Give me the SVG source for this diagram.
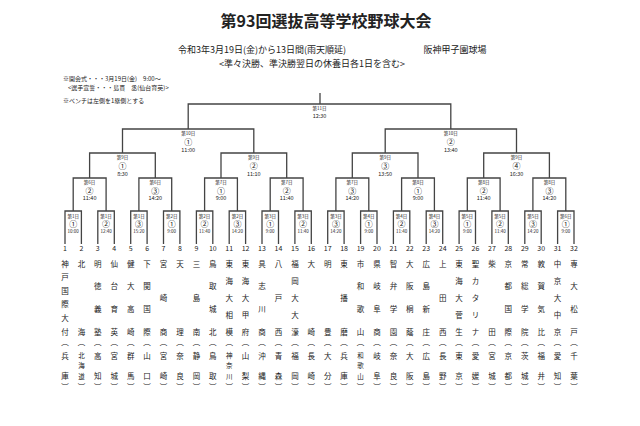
<svg xmlns="http://www.w3.org/2000/svg" width="640" height="426" viewBox="0 0 640 426">
<style>
text{font-family:"Noto Sans CJK JP","Noto Sans",sans-serif;fill:#222;text-anchor:middle;dominant-baseline:central}
.t{font-size:7.5px}
.n{font-size:7px}
.d{font-size:4.5px}
.c{font-size:8px}
.h{font-size:6px}
.s{font-size:6.5px}
.l{text-anchor:start}
path{fill:none;stroke:#444;stroke-width:1.3}
</style>
<rect width="640" height="426" fill="#fff"/>
<text x="326" y="20" style="font-size:16px;font-weight:bold">第93回選抜高等学校野球大会</text>
<text x="262" y="49" style="font-size:9px">令和3年3月19日(金)から13日間(雨天順延)</text>
<text x="455" y="49" style="font-size:9px">阪神甲子園球場</text>
<text x="312" y="63" style="font-size:9px">&lt;準々決勝、準決勝翌日の休養日各1日を含む&gt;</text>
<text x="63" y="78" class="h l">※開会式・・・3月19日(金)　9:00～</text>
<text x="68" y="87" class="h l">&lt;選手宣誓・・・島貫　丞(仙台育英)&gt;</text>
<text x="63" y="100" class="h l">※ベンチは左側を1塁側とする</text>
<g id="connectors">
<path d="M320 93V104M188.2 129V104H450.8V129"/>
<path d="M122.5 153V129H253.8V153M385.2 153V129H516.5V153"/>
<path d="M89.6 178V153H155.3V178M221 178V153H286.7V178M352.3 178V153H418V178M483.7 178V153H549.4V178"/>
<path d="M73.2 211V178H106.1V211M138.9 211V178H171.7V211M204.6 211V178H237.4V211M270.2 211V178H303.1V211M335.9 211V178H368.8V211M401.6 211V178H434.4V211M467.3 211V178H500.1V211M532.9 211V178H565.8V211"/>
<path d="M65 244V211H81.4V244M97.8 244V211H114.3V244M130.7 244V211H147.1V244M163.5 244V211H179.9V244M196.4 244V211H212.8V244M229.2 244V211H245.6V244M262 244V211H278.5V244M294.9 244V211H311.3V244M327.7 244V211H344.1V244M360.6 244V211H377V244M393.4 244V211H409.8V244M426.2 244V211H442.7V244M459.1 244V211H475.5V244M491.9 244V211H508.3V244M524.8 244V211H541.2V244M557.6 244V211H574V244"/>
</g>
<g id="labels">
<text x="319.5" y="108" class="d">第11日</text><text x="319.5" y="116" class="d" style="font-size:5.5px">12:30</text>
<text x="188.2" y="133" class="d">第10日</text><text x="188.2" y="141" class="c">①</text><text x="188.2" y="150" class="d" style="font-size:5.5px">11:00</text>
<text x="450.8" y="133" class="d">第10日</text><text x="450.8" y="141" class="c">②</text><text x="450.8" y="150" class="d" style="font-size:5.5px">13:40</text>
<text x="122.5" y="157" class="d">第9日</text><text x="122.5" y="165" class="c">①</text><text x="122.5" y="174" class="d" style="font-size:5.5px">8:30</text>
<text x="253.8" y="157" class="d">第9日</text><text x="253.8" y="165" class="c">②</text><text x="253.8" y="174" class="d" style="font-size:5.5px">11:10</text>
<text x="385.2" y="157" class="d">第9日</text><text x="385.2" y="165" class="c">③</text><text x="385.2" y="174" class="d" style="font-size:5.5px">13:50</text>
<text x="516.5" y="157" class="d">第9日</text><text x="516.5" y="165" class="c">④</text><text x="516.5" y="174" class="d" style="font-size:5.5px">16:30</text>
<text x="89.6" y="182" class="d">第6日</text><text x="89.6" y="190" class="c">②</text><text x="89.6" y="198" class="d" style="font-size:5.5px">11:40</text>
<text x="155.3" y="182" class="d">第6日</text><text x="155.3" y="190" class="c">③</text><text x="155.3" y="198" class="d" style="font-size:5.5px">14:20</text>
<text x="221" y="182" class="d">第7日</text><text x="221" y="190" class="c">①</text><text x="221" y="198" class="d" style="font-size:5.5px">9:00</text>
<text x="286.7" y="182" class="d">第7日</text><text x="286.7" y="190" class="c">②</text><text x="286.7" y="198" class="d" style="font-size:5.5px">11:40</text>
<text x="352.3" y="182" class="d">第7日</text><text x="352.3" y="190" class="c">③</text><text x="352.3" y="198" class="d" style="font-size:5.5px">14:20</text>
<text x="418" y="182" class="d">第8日</text><text x="418" y="190" class="c">①</text><text x="418" y="198" class="d" style="font-size:5.5px">9:00</text>
<text x="483.7" y="182" class="d">第8日</text><text x="483.7" y="190" class="c">②</text><text x="483.7" y="198" class="d" style="font-size:5.5px">11:40</text>
<text x="549.4" y="182" class="d">第8日</text><text x="549.4" y="190" class="c">③</text><text x="549.4" y="198" class="d" style="font-size:5.5px">14:20</text>
<text x="73.2" y="215.5" class="d">第1日</text><text x="73.2" y="223" class="c">①</text><text x="73.2" y="231" class="d">10:00</text>
<text x="106.1" y="215.5" class="d">第1日</text><text x="106.1" y="223" class="c">②</text><text x="106.1" y="231" class="d">12:40</text>
<text x="138.9" y="215.5" class="d">第1日</text><text x="138.9" y="223" class="c">③</text><text x="138.9" y="231" class="d">15:20</text>
<text x="171.7" y="215.5" class="d">第2日</text><text x="171.7" y="223" class="c">①</text><text x="171.7" y="231" class="d">9:00</text>
<text x="204.6" y="215.5" class="d">第2日</text><text x="204.6" y="223" class="c">②</text><text x="204.6" y="231" class="d">11:40</text>
<text x="237.4" y="215.5" class="d">第2日</text><text x="237.4" y="223" class="c">③</text><text x="237.4" y="231" class="d">14:20</text>
<text x="270.2" y="215.5" class="d">第3日</text><text x="270.2" y="223" class="c">①</text><text x="270.2" y="231" class="d">9:00</text>
<text x="303.1" y="215.5" class="d">第3日</text><text x="303.1" y="223" class="c">②</text><text x="303.1" y="231" class="d">11:40</text>
<text x="335.9" y="215.5" class="d">第3日</text><text x="335.9" y="223" class="c">③</text><text x="335.9" y="231" class="d">14:20</text>
<text x="368.8" y="215.5" class="d">第4日</text><text x="368.8" y="223" class="c">①</text><text x="368.8" y="231" class="d">9:00</text>
<text x="401.6" y="215.5" class="d">第4日</text><text x="401.6" y="223" class="c">②</text><text x="401.6" y="231" class="d">11:40</text>
<text x="434.4" y="215.5" class="d">第4日</text><text x="434.4" y="223" class="c">③</text><text x="434.4" y="231" class="d">14:20</text>
<text x="467.3" y="215.5" class="d">第5日</text><text x="467.3" y="223" class="c">①</text><text x="467.3" y="231" class="d">9:00</text>
<text x="500.1" y="215.5" class="d">第5日</text><text x="500.1" y="223" class="c">②</text><text x="500.1" y="231" class="d">11:40</text>
<text x="532.9" y="215.5" class="d">第5日</text><text x="532.9" y="223" class="c">③</text><text x="532.9" y="231" class="d">14:20</text>
<text x="565.8" y="215.5" class="d">第6日</text><text x="565.8" y="223" class="c">①</text><text x="565.8" y="231" class="d">9:00</text>
</g>
<g id="t1" class="t"><text x="65" y="248" class="n">1</text><text x="65" y="263">神</text><text x="65" y="276.6">戸</text><text x="65" y="290.2">国</text><text x="65" y="303.8">際</text><text x="65" y="317.4">大</text><text x="65" y="331">付</text><text x="65" y="341">︵</text><text x="65" y="355">兵</text><text x="65" y="375">庫</text><text x="65" y="386">︶</text></g>
<g id="t2" class="t"><text x="81.4" y="248" class="n">2</text><text x="81.4" y="263">北</text><text x="81.4" y="331">海</text><text x="81.4" y="341">︵</text><text x="81.4" y="354.5" class="s">北</text><text x="81.4" y="365" class="s">海</text><text x="81.4" y="375.5" class="s">道</text><text x="81.4" y="386">︶</text></g>
<g id="t3" class="t"><text x="97.8" y="248" class="n">3</text><text x="97.8" y="263">明</text><text x="97.8" y="285.7">徳</text><text x="97.8" y="308.3">義</text><text x="97.8" y="331">塾</text><text x="97.8" y="341">︵</text><text x="97.8" y="355">高</text><text x="97.8" y="375">知</text><text x="97.8" y="386">︶</text></g>
<g id="t4" class="t"><text x="114.3" y="248" class="n">4</text><text x="114.3" y="263">仙</text><text x="114.3" y="285.7">台</text><text x="114.3" y="308.3">育</text><text x="114.3" y="331">英</text><text x="114.3" y="341">︵</text><text x="114.3" y="355">宮</text><text x="114.3" y="375">城</text><text x="114.3" y="386">︶</text></g>
<g id="t5" class="t"><text x="130.7" y="248" class="n">5</text><text x="130.7" y="263">健</text><text x="130.7" y="285.7">大</text><text x="130.7" y="308.3">高</text><text x="130.7" y="331">崎</text><text x="130.7" y="341">︵</text><text x="130.7" y="355">群</text><text x="130.7" y="375">馬</text><text x="130.7" y="386">︶</text></g>
<g id="t6" class="t"><text x="147.1" y="248" class="n">6</text><text x="147.1" y="263">下</text><text x="147.1" y="285.7">関</text><text x="147.1" y="308.3">国</text><text x="147.1" y="331">際</text><text x="147.1" y="341">︵</text><text x="147.1" y="355">山</text><text x="147.1" y="375">口</text><text x="147.1" y="386">︶</text></g>
<g id="t7" class="t"><text x="163.5" y="248" class="n">7</text><text x="163.5" y="263">宮</text><text x="163.5" y="297">崎</text><text x="163.5" y="331">商</text><text x="163.5" y="341">︵</text><text x="163.5" y="355">宮</text><text x="163.5" y="375">崎</text><text x="163.5" y="386">︶</text></g>
<g id="t8" class="t"><text x="179.9" y="248" class="n">8</text><text x="179.9" y="263">天</text><text x="179.9" y="331">理</text><text x="179.9" y="341">︵</text><text x="179.9" y="355">奈</text><text x="179.9" y="375">良</text><text x="179.9" y="386">︶</text></g>
<g id="t9" class="t"><text x="196.4" y="248" class="n">9</text><text x="196.4" y="263">三</text><text x="196.4" y="297">島</text><text x="196.4" y="331">南</text><text x="196.4" y="341">︵</text><text x="196.4" y="355">静</text><text x="196.4" y="375">岡</text><text x="196.4" y="386">︶</text></g>
<g id="t10" class="t"><text x="212.8" y="248" class="n">10</text><text x="212.8" y="263">鳥</text><text x="212.8" y="285.7">取</text><text x="212.8" y="308.3">城</text><text x="212.8" y="331">北</text><text x="212.8" y="341">︵</text><text x="212.8" y="355">鳥</text><text x="212.8" y="375">取</text><text x="212.8" y="386">︶</text></g>
<g id="t11" class="t"><text x="229.2" y="248" class="n">11</text><text x="229.2" y="263">東</text><text x="229.2" y="280">海</text><text x="229.2" y="297">大</text><text x="229.2" y="314">相</text><text x="229.2" y="331">模</text><text x="229.2" y="341">︵</text><text x="229.2" y="354.5" class="s">神</text><text x="229.2" y="365" class="s">奈</text><text x="229.2" y="375.5" class="s">川</text><text x="229.2" y="386">︶</text></g>
<g id="t12" class="t"><text x="245.6" y="248" class="n">12</text><text x="245.6" y="263">東</text><text x="245.6" y="280">海</text><text x="245.6" y="297">大</text><text x="245.6" y="314">甲</text><text x="245.6" y="331">府</text><text x="245.6" y="341">︵</text><text x="245.6" y="355">山</text><text x="245.6" y="375">梨</text><text x="245.6" y="386">︶</text></g>
<g id="t13" class="t"><text x="262" y="248" class="n">13</text><text x="262" y="263">具</text><text x="262" y="285.7">志</text><text x="262" y="308.3">川</text><text x="262" y="331">商</text><text x="262" y="341">︵</text><text x="262" y="355">沖</text><text x="262" y="375">縄</text><text x="262" y="386">︶</text></g>
<g id="t14" class="t"><text x="278.5" y="248" class="n">14</text><text x="278.5" y="263">八</text><text x="278.5" y="297">戸</text><text x="278.5" y="331">西</text><text x="278.5" y="341">︵</text><text x="278.5" y="355">青</text><text x="278.5" y="375">森</text><text x="278.5" y="386">︶</text></g>
<g id="t15" class="t"><text x="294.9" y="248" class="n">15</text><text x="294.9" y="263">福</text><text x="294.9" y="280">岡</text><text x="294.9" y="297">大</text><text x="294.9" y="314">大</text><text x="294.9" y="331">濠</text><text x="294.9" y="341">︵</text><text x="294.9" y="355">福</text><text x="294.9" y="375">岡</text><text x="294.9" y="386">︶</text></g>
<g id="t16" class="t"><text x="311.3" y="248" class="n">16</text><text x="311.3" y="263">大</text><text x="311.3" y="331">崎</text><text x="311.3" y="341">︵</text><text x="311.3" y="355">長</text><text x="311.3" y="375">崎</text><text x="311.3" y="386">︶</text></g>
<g id="t17" class="t"><text x="327.7" y="248" class="n">17</text><text x="327.7" y="263">明</text><text x="327.7" y="331">豊</text><text x="327.7" y="341">︵</text><text x="327.7" y="355">大</text><text x="327.7" y="375">分</text><text x="327.7" y="386">︶</text></g>
<g id="t18" class="t"><text x="344.1" y="248" class="n">18</text><text x="344.1" y="263">東</text><text x="344.1" y="297">播</text><text x="344.1" y="331">磨</text><text x="344.1" y="341">︵</text><text x="344.1" y="355">兵</text><text x="344.1" y="375">庫</text><text x="344.1" y="386">︶</text></g>
<g id="t19" class="t"><text x="360.6" y="248" class="n">19</text><text x="360.6" y="263">市</text><text x="360.6" y="285.7">和</text><text x="360.6" y="308.3">歌</text><text x="360.6" y="331">山</text><text x="360.6" y="341">︵</text><text x="360.6" y="354.5" class="s">和</text><text x="360.6" y="365" class="s">歌</text><text x="360.6" y="375.5" class="s">山</text><text x="360.6" y="386">︶</text></g>
<g id="t20" class="t"><text x="377" y="248" class="n">20</text><text x="377" y="263">県</text><text x="377" y="285.7">岐</text><text x="377" y="308.3">阜</text><text x="377" y="331">商</text><text x="377" y="341">︵</text><text x="377" y="355">岐</text><text x="377" y="375">阜</text><text x="377" y="386">︶</text></g>
<g id="t21" class="t"><text x="393.4" y="248" class="n">21</text><text x="393.4" y="263">智</text><text x="393.4" y="285.7">弁</text><text x="393.4" y="308.3">学</text><text x="393.4" y="331">園</text><text x="393.4" y="341">︵</text><text x="393.4" y="355">奈</text><text x="393.4" y="375">良</text><text x="393.4" y="386">︶</text></g>
<g id="t22" class="t"><text x="409.8" y="248" class="n">22</text><text x="409.8" y="263">大</text><text x="409.8" y="285.7">阪</text><text x="409.8" y="308.3">桐</text><text x="409.8" y="331">蔭</text><text x="409.8" y="341">︵</text><text x="409.8" y="355">大</text><text x="409.8" y="375">阪</text><text x="409.8" y="386">︶</text></g>
<g id="t23" class="t"><text x="426.2" y="248" class="n">23</text><text x="426.2" y="263">広</text><text x="426.2" y="285.7">島</text><text x="426.2" y="308.3">新</text><text x="426.2" y="331">庄</text><text x="426.2" y="341">︵</text><text x="426.2" y="355">広</text><text x="426.2" y="375">島</text><text x="426.2" y="386">︶</text></g>
<g id="t24" class="t"><text x="442.7" y="248" class="n">24</text><text x="442.7" y="263">上</text><text x="442.7" y="297">田</text><text x="442.7" y="331">西</text><text x="442.7" y="341">︵</text><text x="442.7" y="355">長</text><text x="442.7" y="375">野</text><text x="442.7" y="386">︶</text></g>
<g id="t25" class="t"><text x="459.1" y="248" class="n">25</text><text x="459.1" y="263">東</text><text x="459.1" y="280">海</text><text x="459.1" y="297">大</text><text x="459.1" y="314">菅</text><text x="459.1" y="331">生</text><text x="459.1" y="341">︵</text><text x="459.1" y="355">東</text><text x="459.1" y="375">京</text><text x="459.1" y="386">︶</text></g>
<g id="t26" class="t"><text x="475.5" y="248" class="n">26</text><text x="475.5" y="263">聖</text><text x="475.5" y="280">カ</text><text x="475.5" y="297">タ</text><text x="475.5" y="314">リ</text><text x="475.5" y="331">ナ</text><text x="475.5" y="341">︵</text><text x="475.5" y="355">愛</text><text x="475.5" y="375">媛</text><text x="475.5" y="386">︶</text></g>
<g id="t27" class="t"><text x="491.9" y="248" class="n">27</text><text x="491.9" y="263">柴</text><text x="491.9" y="331">田</text><text x="491.9" y="341">︵</text><text x="491.9" y="355">宮</text><text x="491.9" y="375">城</text><text x="491.9" y="386">︶</text></g>
<g id="t28" class="t"><text x="508.3" y="248" class="n">28</text><text x="508.3" y="263">京</text><text x="508.3" y="285.7">都</text><text x="508.3" y="308.3">国</text><text x="508.3" y="331">際</text><text x="508.3" y="341">︵</text><text x="508.3" y="355">京</text><text x="508.3" y="375">都</text><text x="508.3" y="386">︶</text></g>
<g id="t29" class="t"><text x="524.8" y="248" class="n">29</text><text x="524.8" y="263">常</text><text x="524.8" y="285.7">総</text><text x="524.8" y="308.3">学</text><text x="524.8" y="331">院</text><text x="524.8" y="341">︵</text><text x="524.8" y="355">茨</text><text x="524.8" y="375">城</text><text x="524.8" y="386">︶</text></g>
<g id="t30" class="t"><text x="541.2" y="248" class="n">30</text><text x="541.2" y="263">敦</text><text x="541.2" y="285.7">賀</text><text x="541.2" y="308.3">気</text><text x="541.2" y="331">比</text><text x="541.2" y="341">︵</text><text x="541.2" y="355">福</text><text x="541.2" y="375">井</text><text x="541.2" y="386">︶</text></g>
<g id="t31" class="t"><text x="557.6" y="248" class="n">31</text><text x="557.6" y="263">中</text><text x="557.6" y="280">京</text><text x="557.6" y="297">大</text><text x="557.6" y="314">中</text><text x="557.6" y="331">京</text><text x="557.6" y="341">︵</text><text x="557.6" y="355">愛</text><text x="557.6" y="375">知</text><text x="557.6" y="386">︶</text></g>
<g id="t32" class="t"><text x="574" y="248" class="n">32</text><text x="574" y="263">専</text><text x="574" y="285.7">大</text><text x="574" y="308.3">松</text><text x="574" y="331">戸</text><text x="574" y="341">︵</text><text x="574" y="355">千</text><text x="574" y="375">葉</text><text x="574" y="386">︶</text></g>
</svg>
